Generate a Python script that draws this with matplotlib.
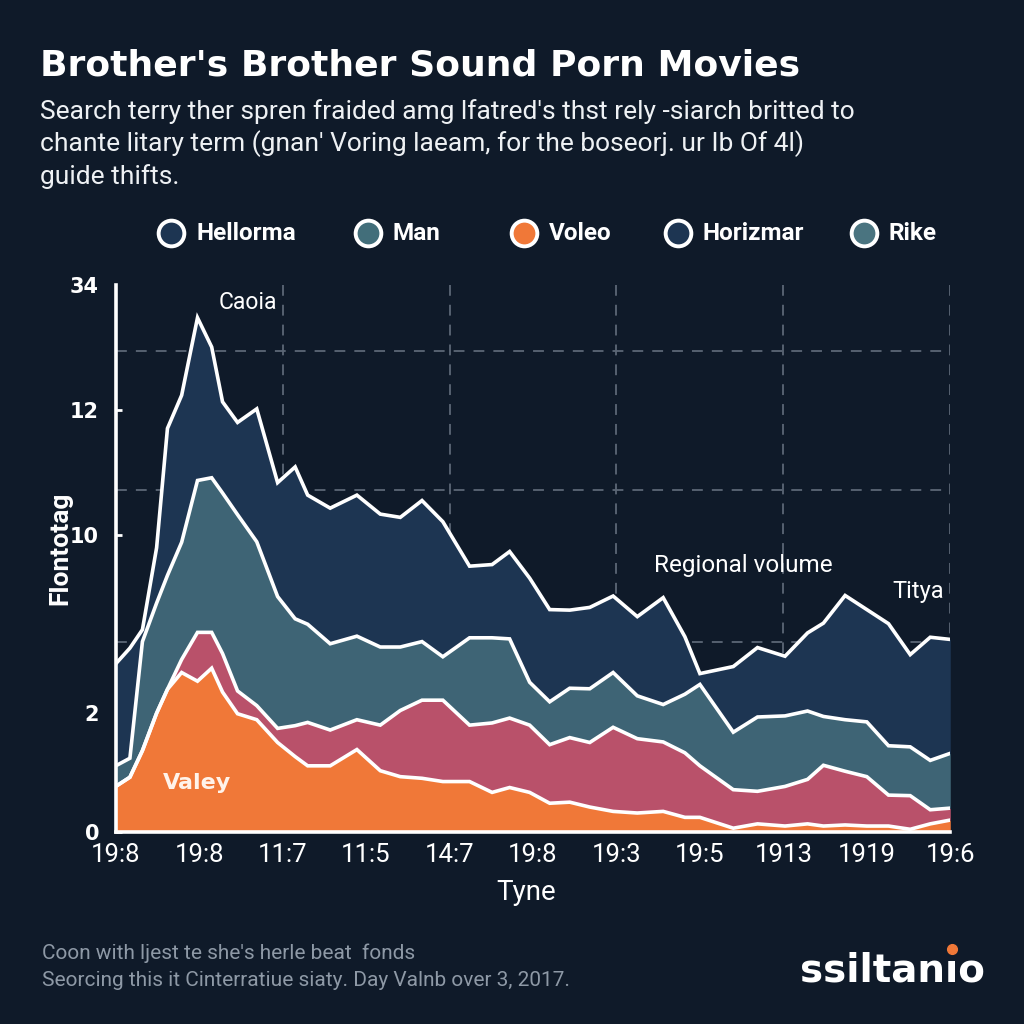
import matplotlib
matplotlib.use("Agg")
import matplotlib.pyplot as plt
import numpy as np
from matplotlib.lines import Line2D

plt.rcParams["font.family"] = ["Roboto", "DejaVu Sans"]

BG = "#0f1a29"
GRID = "#5c6776"
C_ORANGE = "#f07838"
C_PINK = "#b9516a"
C_TEAL = "#3e6475"
C_NAVY = "#1d3552"

# x positions (tick units 0..10) and stacked layer values
x = [0.00, 0.17, 0.32, 0.49, 0.62, 0.79, 0.98, 1.15, 1.28, 1.46, 1.69, 1.94,
     2.15, 2.30, 2.57, 2.89, 3.17, 3.41, 3.67, 3.92, 4.24, 4.51, 4.72, 4.96,
     5.20, 5.44, 5.68, 5.96, 6.25, 6.56, 6.82, 7.00, 7.40, 7.69, 8.02, 8.29,
     8.48, 8.74, 9.00, 9.26, 9.52, 9.76, 10.00]
orange = [8.4, 10.1, 15.0, 21.9, 26.3, 29.4, 27.8, 30.2, 25.8, 21.8, 20.7, 16.5,
          13.9, 12.2, 12.2, 15.2, 11.3, 10.2, 9.9, 9.3, 9.3, 7.3, 8.2, 7.3,
          5.3, 5.5, 4.6, 3.8, 3.5, 3.8, 2.7, 2.7, 0.7, 1.5, 1.1, 1.5,
          1.1, 1.3, 1.1, 1.1, 0.5, 1.5, 2.2]
pink = [0.0, 0.0, 0.0, 0.0, 0.0, 2.4, 9.0, 6.6, 7.1, 4.2, 2.6, 2.6,
        5.7, 8.0, 6.6, 5.5, 8.4, 12.2, 14.4, 15.0, 10.4, 12.8, 12.8, 12.4,
        10.8, 11.9, 11.9, 15.5, 13.7, 12.8, 11.9, 9.5, 7.1, 6.0, 7.3, 8.2,
        11.2, 9.9, 9.1, 5.7, 6.2, 2.6, 2.2]
teal = [3.8, 3.5, 20.1, 20.3, 21.0, 21.6, 28.0, 28.5, 29.6, 32.5, 30.2, 24.3,
        19.7, 18.1, 15.9, 15.4, 14.4, 11.7, 10.8, 8.0, 16.1, 15.7, 14.6, 7.9,
        7.9, 9.1, 9.9, 10.1, 7.9, 6.9, 10.8, 15.0, 10.6, 13.7, 13.0, 12.6,
        9.0, 9.5, 10.1, 9.1, 9.0, 9.1, 10.1]
navy = [18.8, 20.3, 2.2, 10.2, 27.1, 27.1, 30.0, 24.1, 16.8, 17.0, 24.5, 21.0,
        28.0, 23.8, 25.0, 26.0, 24.5, 23.9, 26.0, 24.9, 13.2, 13.5, 16.1, 19.2,
        17.0, 14.4, 15.0, 14.1, 14.6, 19.7, 10.6, 2.0, 12.1, 12.8, 11.0, 14.4,
        17.2, 22.9, 20.7, 22.5, 17.0, 22.7, 21.0]

x_labels = ["19:8", "19:8", "11:7", "11:5", "14:7", "19:8", "19:3", "19:5",
            "1913", "1919", "19:6"]
y_tick_pos = [0, 21.9, 54.7, 77.7, 100.8]
y_tick_labels = ["0", "2", "10", "12", "34"]
grid_y = [35.1, 63.1, 88.7]
grid_x = [2, 4, 6, 8, 10]

legend_names = ["Hellorma", "Man", "Voleo", "Horizmar", "Rike"]
legend_colors = [C_NAVY, "#426e7a", C_ORANGE, C_NAVY, "#4a7480"]

fig = plt.figure(figsize=(10.24, 10.24), dpi=100, facecolor=BG)
ax = fig.add_axes([0.113, 0.1875, 0.815, 0.534])
ax.set_facecolor(BG)
ax.set_xlim(0, 10)
ax.set_ylim(0, 100)

for gy in grid_y:
    ax.axhline(gy, color=GRID, lw=1.3, ls=(0, (6, 5)), zorder=0)
for gx in grid_x:
    ax.axvline(gx, color=GRID, lw=1.3, ls=(0, (6, 5)), zorder=0)

base = np.zeros(len(x))
tops = []
for vals, col in zip([orange, pink, teal, navy], [C_ORANGE, C_PINK, C_TEAL, C_NAVY]):
    top = base + np.array(vals)
    ax.fill_between(x, base, top, color=col, lw=0, zorder=2)
    tops.append(top)
    base = top
for top in tops:
    ax.plot(x, top, color="white", lw=2.6, zorder=3, solid_joinstyle="miter")

for side in ["top", "right"]:
    ax.spines[side].set_visible(False)
for side in ["left", "bottom"]:
    ax.spines[side].set_color("white")
    ax.spines[side].set_linewidth(2.6)
    ax.spines[side].set_zorder(4)

ax.set_xticks(range(11))
ax.set_xticklabels(x_labels, fontsize=18.5, color="white")
ax.tick_params(axis="x", length=0, pad=8)
ax.set_yticks(y_tick_pos)
ax.set_yticklabels(y_tick_labels, fontsize=15, color="white",
                   family="DejaVu Sans", fontweight="bold")
ax.tick_params(axis="y", direction="in", length=4, width=2, color="white", pad=12)
ax.get_yticklines()[-2].set_visible(False)

ax.text(1.58, 97.6, "Caoia", color="white", fontsize=16.5, ha="center", va="center")
ax.text(7.52, 49.2, "Regional volume", color="white", fontsize=17.5,
        ha="center", va="center", zorder=5)
ax.text(9.62, 44.4, "Titya", color="white", fontsize=17, ha="center",
        va="center", zorder=5)
ax.text(0.98, 9.1, "Valey", color="#fff3ea", fontsize=16, fontweight="bold",
        ha="center", va="center", zorder=5, family="DejaVu Sans")

fig.text(526 / 1024, 1 - 892 / 1024, "Tyne", color="white", fontsize=20,
         ha="center", va="center")
fig.text(60 / 1024, 1 - 548 / 1024, "Flontotag", color="white", fontsize=19,
         fontweight="bold", rotation=90, ha="center", va="center")

# header
fig.text(40 / 1024, 1 - 66 / 1024, "Brother's Brother Sound Porn Movies",
         color="white", fontsize=26, fontweight="bold", family="DejaVu Sans",
         ha="left", va="center")
sub_lines = [
    "Search terry ther spren fraided amg lfatred's thst rely -siarch britted to",
    "chante litary term (gnan' Voring laeam, for the boseorj. ur Ib Of 4l)",
    "guide thifts.",
]
for yy, line in zip([112, 144, 177], sub_lines):
    fig.text(40 / 1024, 1 - yy / 1024, line, color="#eef1f4", fontsize=19,
             ha="left", va="center")

# legend
leg_marker_x = [171, 368, 524, 678, 864]
for mx, name, col in zip(leg_marker_x, legend_names, legend_colors):
    fig.add_artist(Line2D([mx / 1024], [1 - 233 / 1024], transform=fig.transFigure,
                          marker="o", ms=18.5, mfc=col, mec="white", mew=2.8, ls=""))
    fig.text((mx + 25) / 1024, 1 - 233 / 1024, name, color="white", fontsize=17.5,
             fontweight="bold", ha="left", va="center")

# footer
foot_lines = [
    "Coon with ljest te she's herle beat  fonds",
    "Seorcing this it Cinterratiue siaty. Day Valnb over 3, 2017.",
]
for yy, line in zip([953, 980], foot_lines):
    fig.text(42 / 1024, 1 - yy / 1024, line, color="#8e99a6", fontsize=15,
             ha="left", va="center")

logo_kw = dict(fontsize=28, fontweight="bold", color="white",
               family="DejaVu Sans", va="baseline", ha="left")
logo_x = 800 / 1024
fig.text(logo_x, 1 - 982 / 1024, "ssiltan\u0131o", **logo_kw)
renderer = fig.canvas.get_renderer()


def text_width(s):
    t = fig.text(0, 0, s, **logo_kw)
    w = t.get_window_extent(renderer).width
    t.remove()
    return w


w0 = text_width("ssiltan")
w1 = text_width("ssiltan\u0131")
dot_x = logo_x + (w0 + w1) / 2 / 1024
fig.add_artist(Line2D([dot_x], [1 - 949 / 1024], transform=fig.transFigure,
                      marker="o", ms=7, mfc=C_ORANGE, mec=C_ORANGE, ls=""))

fig.savefig("out.png", dpi=100, facecolor=BG)
